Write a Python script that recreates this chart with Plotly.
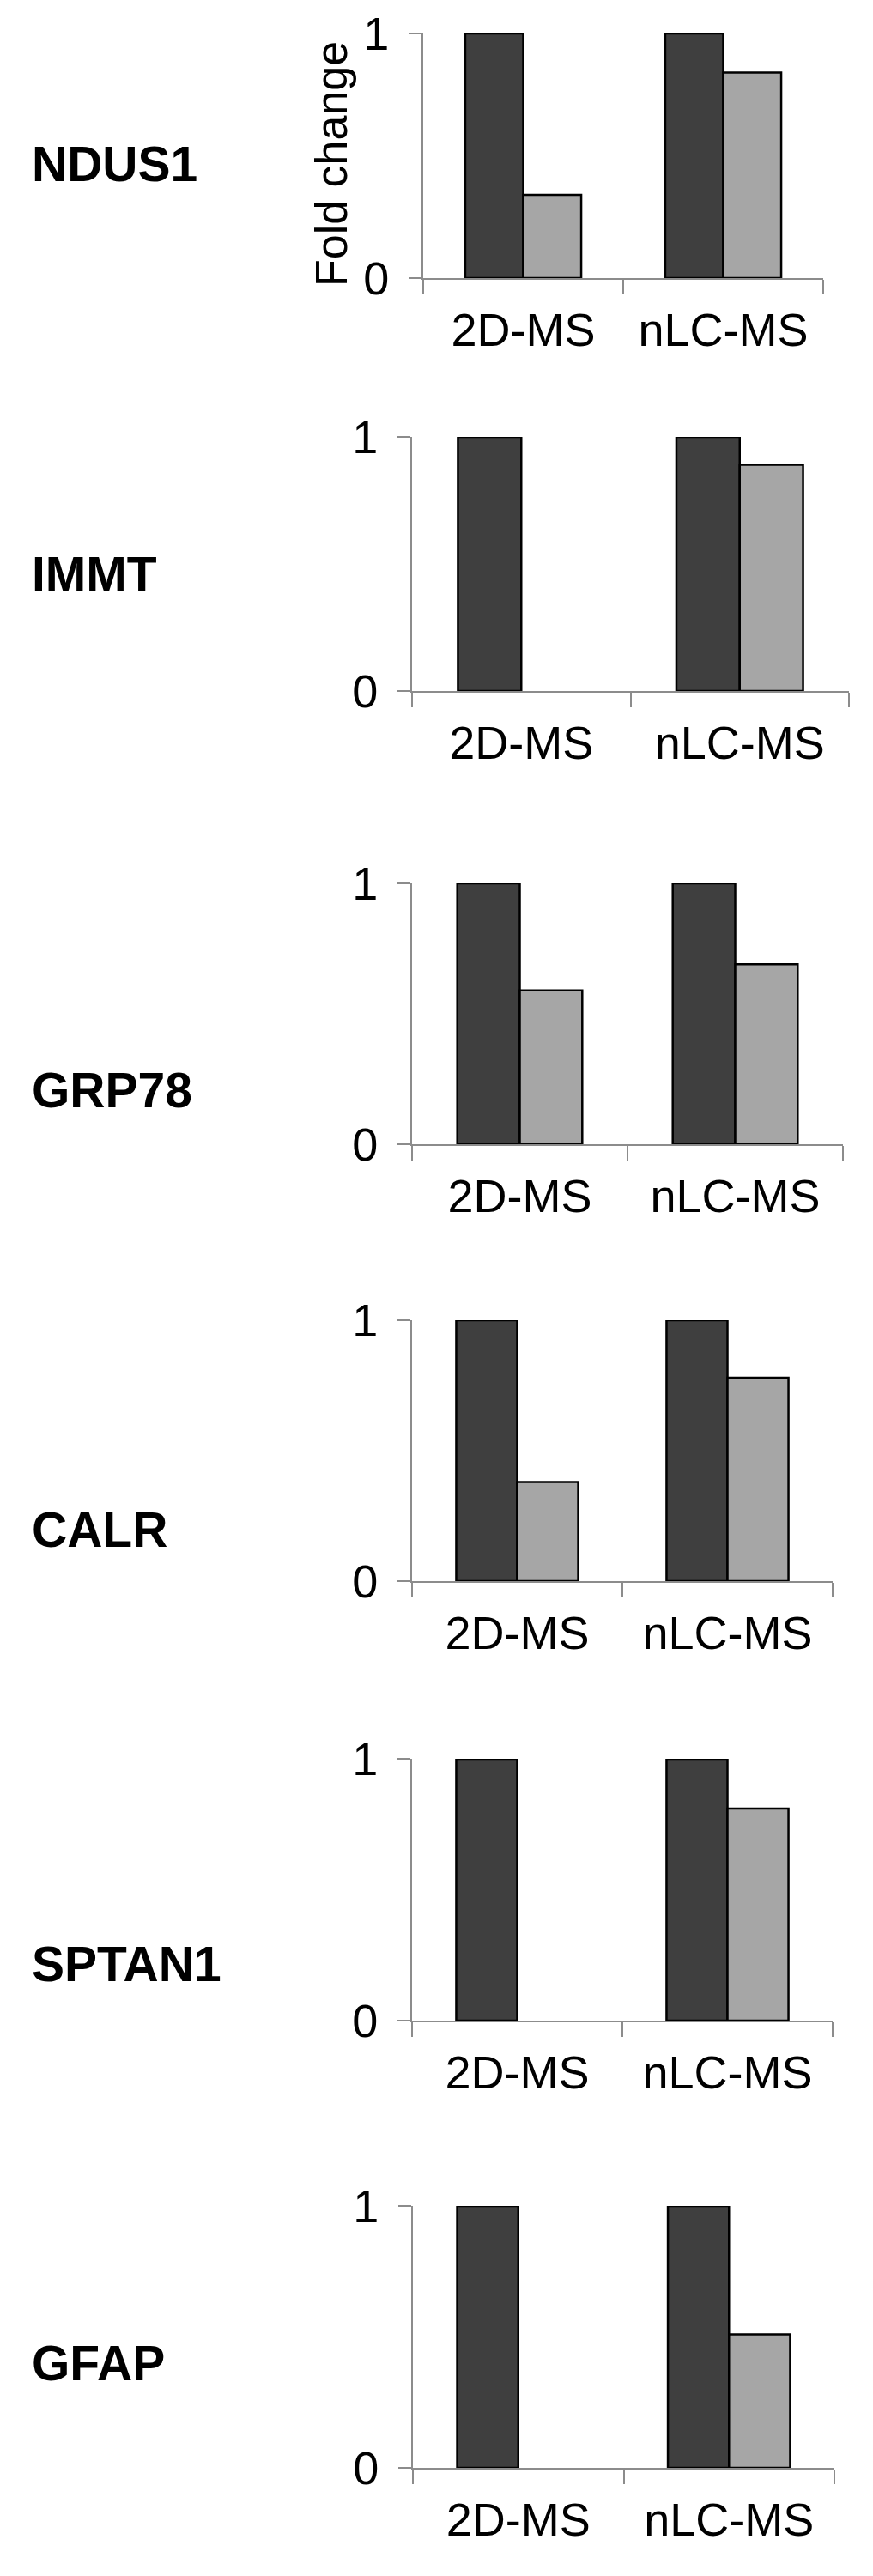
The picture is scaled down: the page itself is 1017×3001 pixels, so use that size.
import plotly.graph_objects as go
from plotly.subplots import make_subplots

# Data (fold change, normalised to the dark series)
genes = ["NDUS1", "IMMT", "GRP78", "CALR", "SPTAN1", "GFAP"]
methods = ["2D-MS", "nLC-MS"]
dark_values = [
    [1, 1],
    [1, 1],
    [1, 1],
    [1, 1],
    [1, 1],
    [1, 1],
]
light_values = [
    [0.34, 0.84],
    [None, 0.89],
    [0.59, 0.69],
    [0.38, 0.78],
    [None, 0.81],
    [None, 0.51],
]

# Page geometry (pixels) for each panel
W, H = 1017, 3001
axis_left = [493, 480, 480, 480, 480, 481]
axis_right = [959, 989, 982, 970, 970, 972]
axis_top = [39, 509, 1029, 1538, 2049, 2570]
axis_zero = [324, 805, 1333, 1842, 2354, 2875]
gene_label_y = [191, 669, 1270, 1782, 2288, 2753]

FONT = "Liberation Sans, Arial, sans-serif"
DARK = "#3f3f3f"
LIGHT = "#a6a6a6"
AXIS_GREY = "#8c8c8c"

fig = make_subplots(rows=len(genes), cols=1)

for i, gene in enumerate(genes):
    row = i + 1
    fig.add_trace(
        go.Bar(
            x=methods,
            y=dark_values[i],
            marker=dict(color=DARK, line=dict(color="black", width=2.5)),
            showlegend=False,
        ),
        row=row, col=1,
    )
    fig.add_trace(
        go.Bar(
            x=methods,
            y=light_values[i],
            marker=dict(color=LIGHT, line=dict(color="black", width=2.5)),
            showlegend=False,
        ),
        row=row, col=1,
    )

    suffix = "" if row == 1 else str(row)
    fig.update_layout(**{
        f"xaxis{suffix}": dict(
            domain=[axis_left[i] / W, axis_right[i] / W],
            range=[-0.5, 1.5], automargin=False,
            showline=True, linecolor=AXIS_GREY, linewidth=2,
            ticks="outside", tickson="boundaries", ticklen=17,
            tickcolor=AXIS_GREY, tickwidth=2,
            ticklabelstandoff=12,
            tickfont=dict(family=FONT, size=54, color="black"),
            showgrid=False, zeroline=False, fixedrange=True,
        ),
        f"yaxis{suffix}": dict(
            domain=[1 - axis_zero[i] / H, 1 - axis_top[i] / H],
            range=[0, 1], automargin=False,
            tickvals=[0, 1], ticktext=["0", "1"],
            showline=True, linecolor=AXIS_GREY, linewidth=2,
            ticks="outside", ticklen=15, tickcolor=AXIS_GREY, tickwidth=2,
            ticklabelstandoff=12,
            tickfont=dict(family=FONT, size=54, color="black"),
            showgrid=False, zeroline=False, fixedrange=True,
        ),
    })

    fig.add_annotation(
        text=f"<b>{gene}</b>",
        xref="paper", yref="paper",
        x=35 / W, y=1 - gene_label_y[i] / H,
        xanchor="left", yanchor="middle",
        showarrow=False,
        font=dict(family=FONT, size=57, color="black"),
    )

# y-axis title only on the first panel
fig.add_annotation(
    text="Fold change",
    xref="paper", yref="paper",
    x=386 / W, y=1 - 191 / H,
    xanchor="center", yanchor="middle",
    textangle=-90, showarrow=False,
    font=dict(family=FONT, size=52, color="black"),
)

fig.update_layout(
    template="none",
    width=W, height=H,
    margin=dict(l=0, r=0, t=0, b=0, autoexpand=False),
    barmode="group", bargap=0.42, bargroupgap=0,
    paper_bgcolor="white", plot_bgcolor="white",
    showlegend=False,
)

# drop the browser's default page margin so the figure sits at (0, 0)
fig.write_html(
    "out.html",
    config={"displayModeBar": False},
    post_script="document.body.style.margin='0';",
)
